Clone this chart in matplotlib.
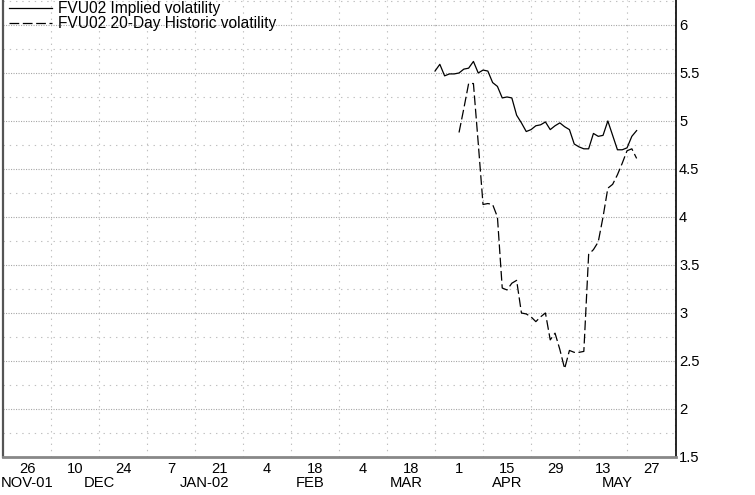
import matplotlib.pyplot as plt
import pandas as pd

plt.rcParams['font.family'] = ['Liberation Sans', 'DejaVu Sans']
plt.rcParams['lines.scale_dashes'] = False

# business-day axis from 19 Nov 2001 to 3 Jun 2002
axis_start = '2001-11-19'
axis_end = '2002-06-03'

implied_start = '2002-03-25'
implied_vol = [5.52, 5.59, 5.47, 5.49, 5.49, 5.50, 5.54, 5.55, 5.62, 5.50,
               5.53, 5.52, 5.40, 5.36, 5.24, 5.25, 5.24, 5.06, 4.98, 4.89,
               4.91, 4.95, 4.96, 4.99, 4.91, 4.95, 4.98, 4.94, 4.91, 4.76,
               4.73, 4.71, 4.71, 4.87, 4.84, 4.85, 5.00, 4.85, 4.70, 4.70,
               4.72, 4.84, 4.90]

historic_start = '2002-04-01'
historic_vol = [4.88, 5.13, 5.39, 5.39, 4.77, 4.13, 4.14, 4.13, 4.00, 3.26,
                3.24, 3.31, 3.34, 3.00, 2.99, 2.96, 2.91, 2.96, 3.00, 2.72,
                2.79, 2.62, 2.42, 2.61, 2.59, 2.59, 2.60, 3.61, 3.66, 3.74,
                4.00, 4.30, 4.34, 4.44, 4.56, 4.69, 4.71, 4.61]

month_labels = ['NOV-01', 'DEC', 'JAN-02', 'FEB', 'MAR', 'APR', 'MAY']
month_dates = ['2001-11-26', '2001-12-17', '2002-01-16', '2002-02-15',
               '2002-03-15', '2002-04-15', '2002-05-16']

days = pd.bdate_range(axis_start, axis_end)


def pos(d):
    return days.searchsorted(pd.Timestamp(d))


x_imp = [pos(implied_start) + i for i in range(len(implied_vol))]
x_his = [pos(historic_start) + i for i in range(len(historic_vol))]

fig = plt.figure(figsize=(7.55, 4.95), dpi=100)
ax = fig.add_axes([3 / 755, 38 / 495, 673 / 755, 457 / 495])

ax.plot(x_imp, implied_vol, color='black', lw=0.9,
        label='FVU02 Implied volatility')
ax.plot(x_his, historic_vol, color='black', lw=0.9, dashes=(7, 2.6),
        label='FVU02 20-Day Historic volatility')

ax.set_xlim(0, len(days) - 0.8)
ax.set_ylim(1.5, 6.26)

# x ticks: every other Monday labelled, weekly grid
major = list(range(5, len(days), 10))
ax.set_xticks(major)
ax.set_xticklabels([str(days[i].day) for i in major])
ax.set_xticks(list(range(5, len(days), 5)), minor=True)

yt = [1.5, 2, 2.5, 3, 3.5, 4, 4.5, 5, 5.5, 6]
ax.set_yticks(yt)
ax.set_yticklabels(['%g' % v for v in yt])
ax.set_yticks([1.75 + 0.5 * i for i in range(10)], minor=True)
ax.yaxis.tick_right()

fs = 10.6
ax.tick_params(axis='both', which='both', length=0, labelsize=fs)
ax.tick_params(axis='x', pad=3.8)
ax.tick_params(axis='y', pad=2.2)

ax.grid(axis='y', which='major', color='#a8a8a8', lw=0.8, linestyle=(0, (0.8, 1.0)))
ax.grid(axis='y', which='minor', color='#c0c0c0', lw=0.8, linestyle=(0, (1, 3.5)))
ax.grid(axis='x', which='minor', color='#c0c0c0', lw=0.8, linestyle=(0, (1, 3.5)))

for i, lab in enumerate(month_labels):
    ax.text(pos(month_dates[i]), -19 / 457, lab, transform=ax.get_xaxis_transform(),
            ha='center', va='top', fontsize=fs)

ax.spines['top'].set_visible(False)
ax.spines['left'].set_color('#555555')
ax.spines['left'].set_linewidth(1.6)
ax.spines['bottom'].set_color('#888888')
ax.spines['bottom'].set_linewidth(2)
ax.spines['right'].set_color('black')
ax.spines['right'].set_linewidth(1.2)

ax.legend(loc='upper left', frameon=False, fontsize=11.2, handlelength=2.77,
          handletextpad=0.36, labelspacing=0.0, borderaxespad=0.0,
          borderpad=0.0, bbox_to_anchor=(6 / 673, 1.0 - 1 / 457))

fig.savefig('out.png', dpi=100)
